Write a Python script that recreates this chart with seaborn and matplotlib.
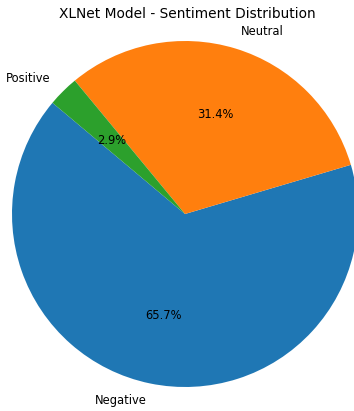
import matplotlib
matplotlib.use("Agg")
import matplotlib.pyplot as plt
import seaborn as sns

labels = ["Negative", "Neutral", "Positive"]
shares = [65.7, 31.4, 2.9]
title = "XLNet Model - Sentiment Distribution"

colors = sns.color_palette("tab10", 3)

W, H = 354, 411
fig = plt.figure(figsize=(W / 100, H / 100), dpi=100)
cx, cy, r = 185, 411 - 214, 173
half = 1.25 * r
ax = fig.add_axes([(cx - half) / W, (cy - half) / H, 2 * half / W, 2 * half / H])
ax.pie(shares, labels=labels, colors=colors, autopct="%1.1f%%", startangle=140,
       textprops={"fontsize": 8.3})
ax.set_xlim(-1.25, 1.25)
ax.set_ylim(-1.25, 1.25)
ax.set_aspect("equal")
ax.axis("off")
fig.text(187 / W, 1 - 14 / H, title, ha="center", va="center", fontsize=9.9)
fig.savefig("out.png", dpi=100)
